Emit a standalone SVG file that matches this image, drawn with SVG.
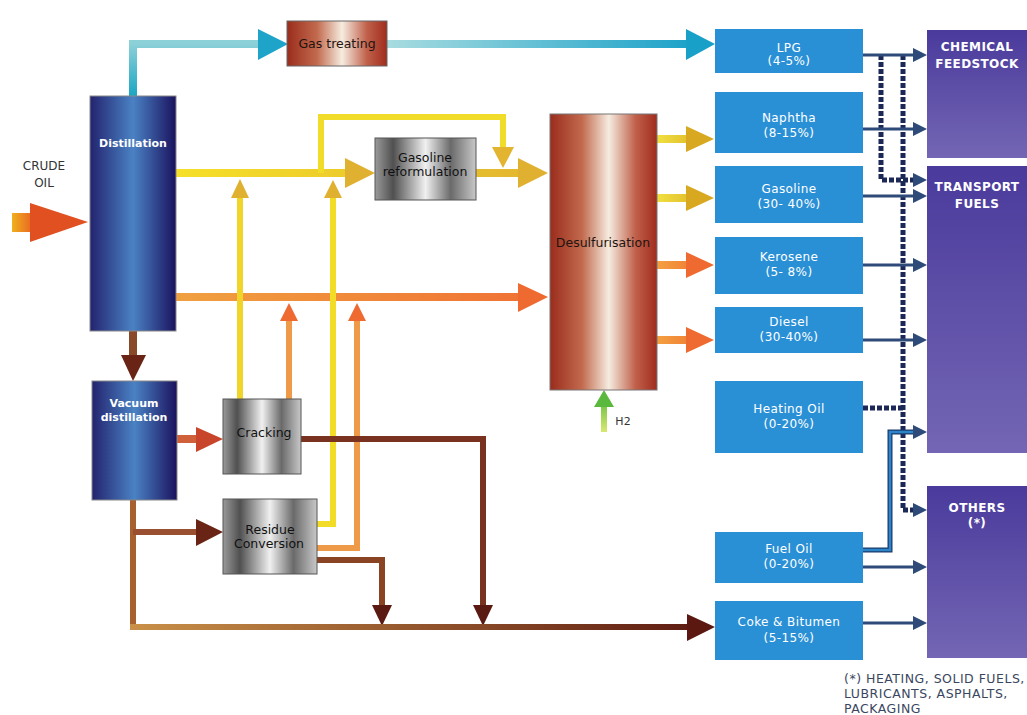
<svg xmlns="http://www.w3.org/2000/svg" width="1027" height="715" viewBox="0 0 1027 715">
<style>
text{font-family:"DejaVu Sans","Liberation Sans",sans-serif;text-anchor:middle}
.wb{fill:#fff;font-weight:bold;font-size:11px}
.dk{fill:#1e1410;font-size:12.5px}
.pt{fill:#fff;font-size:12px;letter-spacing:0.4px}
.pp{fill:#fff;font-weight:bold;font-size:12px;letter-spacing:0.4px}
.prod{fill:#2a90d6}
.purple{fill:url(#gPurple)}
.nav{fill:none;stroke:#2d4a78;stroke-width:3}
.navh{fill:#2d4a78}
.dash{fill:none;stroke:#1c2856;stroke-width:5;stroke-dasharray:5 2}
.ln{fill:none;stroke-width:8}
.ln7{fill:none;stroke-width:6}
</style>
<defs>
<linearGradient id="gBlue" x1="0" x2="1" y1="0" y2="0">
<stop offset="0" stop-color="#23236e"/><stop offset="0.5" stop-color="#4a82c4"/><stop offset="1" stop-color="#1a125e"/>
</linearGradient>
<linearGradient id="gBrown" x1="0" x2="1" y1="0" y2="0">
<stop offset="0" stop-color="#9a2c1c"/><stop offset="0.3" stop-color="#c26a4e"/><stop offset="0.55" stop-color="#f6ece0"/><stop offset="0.8" stop-color="#c0604a"/><stop offset="1" stop-color="#a02c1e"/>
</linearGradient>
<linearGradient id="gGray" x1="0" x2="1" y1="0" y2="0">
<stop offset="0" stop-color="#9a9a9a"/><stop offset="0.18" stop-color="#505050"/><stop offset="0.5" stop-color="#f0f0f0"/><stop offset="0.75" stop-color="#6a6a6a"/><stop offset="1" stop-color="#c8c8c8"/>
</linearGradient>
<linearGradient id="gPurple" x1="0" x2="0" y1="0" y2="1">
<stop offset="0" stop-color="#4a3a9c"/><stop offset="1" stop-color="#7466b4"/>
</linearGradient>
<linearGradient id="gCrude" x1="0" x2="1" y1="0" y2="0">
<stop offset="0" stop-color="#f0b020"/><stop offset="1" stop-color="#e86020"/>
</linearGradient>
<linearGradient id="gGasOut" gradientUnits="userSpaceOnUse" x1="387" y1="0" x2="700" y2="0">
<stop offset="0" stop-color="#a8dce0"/><stop offset="1" stop-color="#18a0c8"/>
</linearGradient>
<linearGradient id="gGasUp" gradientUnits="userSpaceOnUse" x1="0" y1="96" x2="0" y2="44">
<stop offset="0" stop-color="#1aa6c4"/><stop offset="1" stop-color="#8cd0d8"/>
</linearGradient>
<linearGradient id="gYel" gradientUnits="userSpaceOnUse" x1="176" y1="0" x2="548" y2="0">
<stop offset="0" stop-color="#f6e028"/><stop offset="1" stop-color="#e2b430"/>
</linearGradient>
<linearGradient id="gOra" gradientUnits="userSpaceOnUse" x1="176" y1="0" x2="548" y2="0">
<stop offset="0" stop-color="#f0a040"/><stop offset="1" stop-color="#f07034"/>
</linearGradient>
<linearGradient id="gYelOut" gradientUnits="userSpaceOnUse" x1="657" y1="0" x2="715" y2="0">
<stop offset="0" stop-color="#f0e040"/><stop offset="1" stop-color="#d8a820"/>
</linearGradient>
<linearGradient id="gOraOut" gradientUnits="userSpaceOnUse" x1="657" y1="0" x2="715" y2="0">
<stop offset="0" stop-color="#f4a040"/><stop offset="1" stop-color="#ee6a30"/>
</linearGradient>
<linearGradient id="gBot" gradientUnits="userSpaceOnUse" x1="133" y1="0" x2="715" y2="0">
<stop offset="0" stop-color="#c89048"/><stop offset="1" stop-color="#5a1810"/>
</linearGradient>
<linearGradient id="gH2" gradientUnits="userSpaceOnUse" x1="0" y1="432" x2="0" y2="395">
<stop offset="0" stop-color="#d8e870"/><stop offset="1" stop-color="#5ab83c"/>
</linearGradient>
</defs>
<rect width="1027" height="715" fill="#fff"/>

<g id="connectors">
<!-- crude -->
<rect x="12" y="213" width="22" height="19" fill="url(#gCrude)"/>
<polygon points="30,203 88,222 30,242" fill="#e05020"/>
<!-- gas -->
<path class="ln" d="M133,96 V44 H262" stroke="url(#gGasUp)"/>
<polygon points="258,29 288,44 258,60" fill="#1ea4c8"/>
<rect x="387" y="40" width="303" height="8" fill="url(#gGasOut)"/>
<polygon points="686,29 715,44 686,60" fill="#18a0c8"/>
<!-- yellow main -->
<path class="ln" d="M176,173 H348" stroke="url(#gYel)"/>
<path class="ln7" d="M321,173 V117 H503 V150" stroke="#f2dc2a"/>
<polygon points="492,147 503,168 514,147" fill="#e2b430"/>
<polygon points="345,158 375,173 345,188" fill="#e0b030"/>
<path class="ln" d="M476,173 H522" stroke="url(#gYel)"/>
<polygon points="518,158 548,173 518,188" fill="#e0b030"/>
<!-- orange main -->
<path class="ln" d="M176,297 H522" stroke="url(#gOra)"/>
<polygon points="518,283 548,297 518,312" fill="#ee6a30"/>
<!-- cracking up -->
<path class="ln7" d="M240,399 V195" stroke="#f0d428"/>
<polygon points="231,198 240,179 249,198" fill="#e0b030"/>
<path class="ln7" d="M289,399 V318" stroke="#ee9a48"/>
<polygon points="280,321 289,303 298,321" fill="#ee6a30"/>
<!-- residue up -->
<path class="ln7" d="M317,524 H333 V195" stroke="#f2dc28"/>
<polygon points="324,198 333,180 342,198" fill="#e0b030"/>
<path class="ln7" d="M317,548 H357 V318" stroke="#ee9a48"/>
<polygon points="348,321 357,303 366,321" fill="#ee6a30"/>
<!-- brown down -->
<path class="ln7" d="M317,560 H382 V608" stroke="#8a4424"/>
<polygon points="372,605 382,626 392,605" fill="#5a1a12"/>
<path class="ln7" d="M301,439 H483 V608" stroke="#7a3220"/>
<polygon points="473,605 483,626 493,605" fill="#5a1a12"/>
<!-- distillation to vacuum -->
<path class="ln" d="M133,331 V360" stroke="#8a4a2a"/>
<polygon points="121,355 133,381 146,355" fill="#6a2416"/>
<!-- vacuum to cracking -->
<path class="ln" d="M177,439 H200" stroke="#d0603a"/>
<polygon points="196,427 223,439 196,452" fill="#c8442a"/>
<!-- vacuum bottom -->
<path class="ln7" d="M133,500 V627" stroke="#a8602e"/>
<path class="ln7" d="M133,532 H200" stroke="#9a5030"/>
<polygon points="196,519 223,532 196,546" fill="#6a2416"/>
<path class="ln7" d="M130,627 H692" stroke="url(#gBot)"/>
<polygon points="687,614 715,627 687,641" fill="#5a1810"/>
<!-- desulf outputs -->
<path class="ln" d="M657,139 H690" stroke="url(#gYelOut)"/>
<polygon points="686,126 714,139 686,152" fill="#d8a820"/>
<path class="ln" d="M657,198 H690" stroke="url(#gYelOut)"/>
<polygon points="686,185 714,198 686,211" fill="#d8a820"/>
<path class="ln" d="M657,265 H690" stroke="url(#gOraOut)"/>
<polygon points="686,252 714,265 686,278" fill="#ee6a30"/>
<path class="ln" d="M657,340 H690" stroke="url(#gOraOut)"/>
<polygon points="686,327 714,340 686,353" fill="#ee6a30"/>
<!-- H2 -->
<path class="ln7" d="M604,432 V404" stroke="url(#gH2)"/>
<polygon points="594,407 604,390 614,407" fill="#5ab83c"/>
<!-- right side dashed -->
<path class="dash" d="M881,55 V180 H916"/>
<path class="dash" d="M903,55 V510 H916"/>
<path class="dash" d="M863,408 H903"/>
<!-- right side solid -->
<path class="nav" d="M863,55 H916"/>
<path class="nav" d="M863,129 H916"/>
<path class="nav" d="M863,196 H916"/>
<path class="nav" d="M863,265 H916"/>
<path class="nav" d="M863,340 H916"/>
<path d="M863,550 H890 V432 H916" fill="none" stroke="#1c3a6a" stroke-width="5"/>
<path d="M863,550 H890 V432 H916" fill="none" stroke="#2a86c8" stroke-width="2.5"/>
<path class="nav" d="M863,567 H916"/>
<path class="nav" d="M863,623 H916"/>
<polygon class="navh" points="913,48 927,55 913,62"/>
<polygon class="navh" points="913,122 927,129 913,136"/>
<polygon class="navh" points="913,173 927,180 913,187"/>
<polygon class="navh" points="913,189 927,196 913,203"/>
<polygon class="navh" points="913,258 927,265 913,272"/>
<polygon class="navh" points="913,333 927,340 913,347"/>
<polygon class="navh" points="913,425 927,432 913,439"/>
<polygon class="navh" points="913,503 927,510 913,517"/>
<polygon class="navh" points="913,560 927,567 913,574"/>
<polygon class="navh" points="913,616 927,623 913,630"/>
</g>

<g id="crude-oil">
<text x="44" y="170" style="font-size:12px;fill:#333">CRUDE</text>
<text x="44" y="187" style="font-size:12px;fill:#333">OIL</text>
</g>
<g id="distillation">
<rect x="90" y="96" width="86" height="235" fill="url(#gBlue)" stroke="#888" stroke-width="1"/>
<text x="133" y="147" class="wb">Distillation</text>
</g>
<g id="vacuum-distillation">
<rect x="92" y="381" width="85" height="119" fill="url(#gBlue)" stroke="#888" stroke-width="1"/>
<text x="134" y="407" class="wb">Vacuum</text>
<text x="134" y="421" class="wb">distillation</text>
</g>
<g id="gas-treating">
<rect x="287" y="21" width="100" height="45" fill="url(#gBrown)" stroke="#666" stroke-width="1"/>
<text x="337" y="48" class="dk">Gas treating</text>
</g>
<g id="gasoline-reformulation">
<rect x="375" y="138" width="101" height="62" fill="url(#gGray)" stroke="#555" stroke-width="1"/>
<text x="425" y="162" class="dk" style="fill:#111">Gasoline</text>
<text x="425" y="176" class="dk" style="fill:#111">reformulation</text>
</g>
<g id="cracking">
<rect x="223" y="399" width="78" height="75" fill="url(#gGray)" stroke="#555" stroke-width="1"/>
<text x="264" y="437" class="dk" style="fill:#111">Cracking</text>
</g>
<g id="residue-conversion">
<rect x="223" y="499" width="94" height="75" fill="url(#gGray)" stroke="#555" stroke-width="1"/>
<text x="270" y="534" class="dk" style="fill:#111">Residue</text>
<text x="269" y="548" class="dk" style="fill:#111">Conversion</text>
</g>
<g id="desulfurisation">
<rect x="550" y="114" width="107" height="276" fill="url(#gBrown)" stroke="#777" stroke-width="1"/>
<text x="603" y="247" class="dk">Desulfurisation</text>
</g>
<g id="h2">
<text x="623" y="425" style="font-size:11px;fill:#333">H2</text>
</g>

<g id="lpg"><rect class="prod" x="715" y="29" width="148" height="44"/>
<text x="789" y="52" class="pt">LPG</text><text x="789" y="65" class="pt">(4-5%)</text></g>
<g id="naphtha"><rect class="prod" x="715" y="92" width="148" height="61"/>
<text x="789" y="122" class="pt">Naphtha</text><text x="789" y="137" class="pt">(8-15%)</text></g>
<g id="gasoline"><rect class="prod" x="715" y="166" width="148" height="57"/>
<text x="789" y="193" class="pt">Gasoline</text><text x="789" y="208" class="pt">(30- 40%)</text></g>
<g id="kerosene"><rect class="prod" x="715" y="237" width="148" height="57"/>
<text x="789" y="261" class="pt">Kerosene</text><text x="789" y="276" class="pt">(5- 8%)</text></g>
<g id="diesel"><rect class="prod" x="715" y="307" width="148" height="46"/>
<text x="789" y="326" class="pt">Diesel</text><text x="789" y="341" class="pt">(30-40%)</text></g>
<g id="heating-oil"><rect class="prod" x="715" y="381" width="148" height="72"/>
<text x="789" y="413" class="pt">Heating Oil</text><text x="789" y="428" class="pt">(0-20%)</text></g>
<g id="fuel-oil"><rect class="prod" x="715" y="532" width="148" height="51"/>
<text x="789" y="553" class="pt">Fuel Oil</text><text x="789" y="568" class="pt">(0-20%)</text></g>
<g id="coke-bitumen"><rect class="prod" x="715" y="601" width="148" height="59"/>
<text x="789" y="626" class="pt">Coke &amp; Bitumen</text><text x="789" y="642" class="pt">(5-15%)</text></g>

<g id="chemical-feedstock"><rect class="purple" x="927" y="30" width="100" height="128"/>
<text x="977" y="51" class="pp">CHEMICAL</text><text x="977" y="68" class="pp">FEEDSTOCK</text></g>
<g id="transport-fuels"><rect class="purple" x="927" y="166" width="100" height="287"/>
<text x="977" y="191" class="pp">TRANSPORT</text><text x="977" y="208" class="pp">FUELS</text></g>
<g id="others"><rect class="purple" x="927" y="486" width="100" height="172"/>
<text x="977" y="512" class="pp">OTHERS</text><text x="977" y="527" class="pp">(*)</text></g>

<g id="footnote" style="font-size:12.5px;letter-spacing:0.5px;fill:#3a4660">
<text x="844" y="683" style="text-anchor:start">(*) HEATING, SOLID FUELS,</text>
<text x="844" y="698" style="text-anchor:start">LUBRICANTS, ASPHALTS,</text>
<text x="844" y="713" style="text-anchor:start">PACKAGING</text>
</g>
</svg>
